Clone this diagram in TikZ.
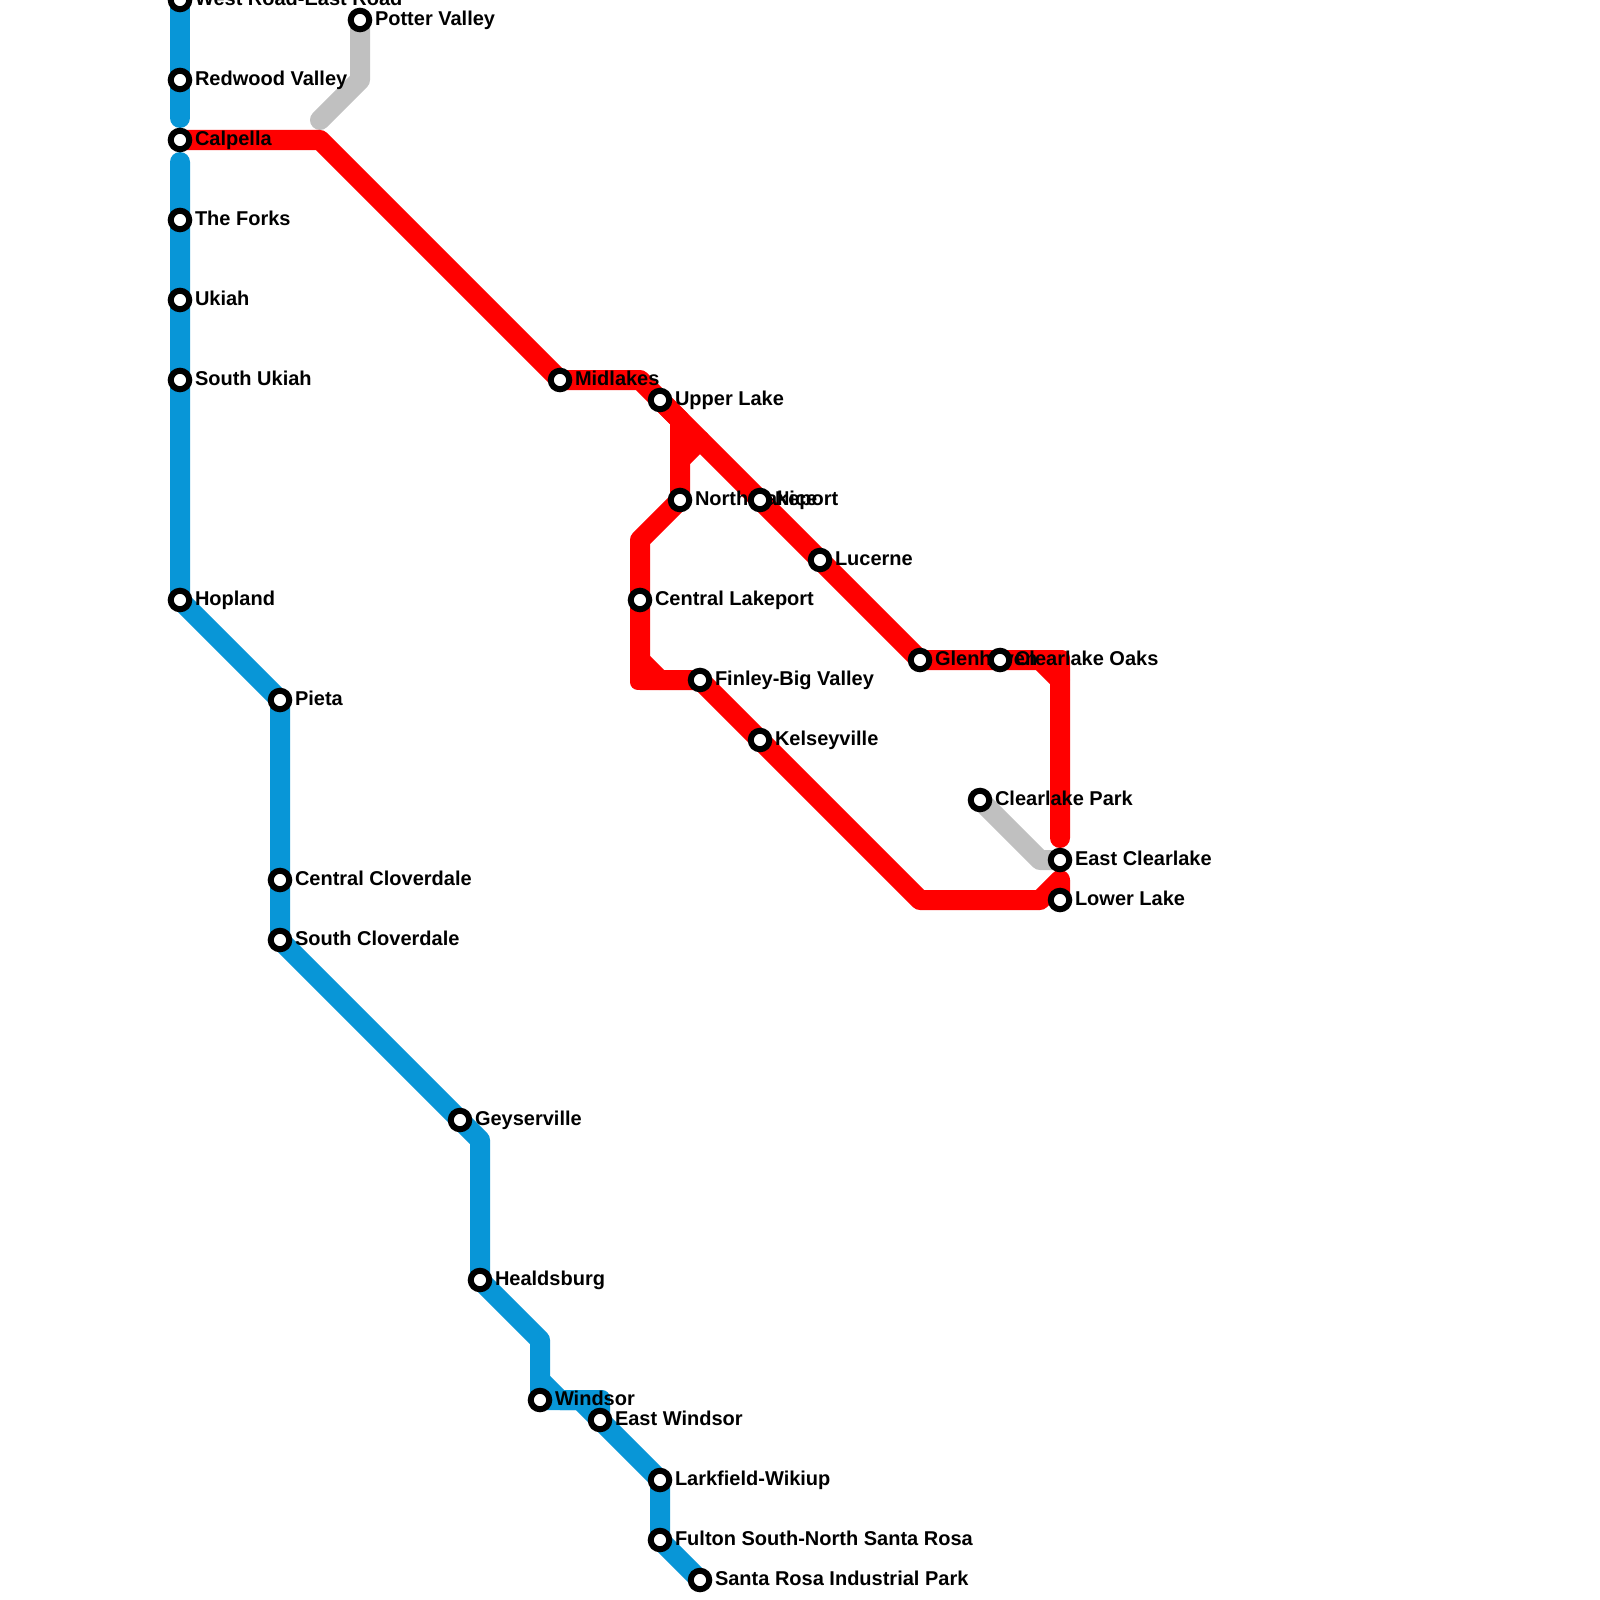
\documentclass[tikz,border=0pt]{standalone}
\usepackage{fontspec}
\setmainfont{Liberation Sans}
\usetikzlibrary{backgrounds}
\pgfdeclarelayer{linelayer}
\pgfdeclarelayer{labellayer}
\pgfsetlayers{background,linelayer,labellayer,main}
\definecolor{lineblue}{HTML}{0896D7}
\definecolor{linered}{HTML}{FF0000}
\definecolor{linegray}{HTML}{C0C0C0}
\tikzset{
  x=1pt,y=-1pt,
  station/.style={circle,draw=black,fill=white,line width=6pt,minimum size=18.5pt,inner sep=0pt,outer sep=0pt},
  stationlabel/.style={anchor=base west,inner sep=0pt,outer sep=0pt,text=black,font=\fontsize{20}{22}\selectfont\bfseries},
  metro/.style={line width=20pt,line cap=round,line join=round},
  blueline/.style={metro,draw=lineblue},
  redline/.style={metro,draw=linered},
  grayline/.style={metro,draw=linegray},
  cornerpatch/.style={line width=16pt,line join=round}
}
\newcommand{\stn}[3]{%
  \node[station] (#1) at (#2) {};
  \begin{pgfonlayer}{labellayer}
    \node[stationlabel] (#1-label) at ([shift={(15,5.5)}]#1.center) {#3};
  \end{pgfonlayer}}
\begin{document}
\begin{tikzpicture}
\useasboundingbox (0,0) rectangle (1600,1600);
\clip (0,0) rectangle (1600,1600);
\stn{westroad}{180,0}{West Road-East Road}
\stn{redwood}{180,80}{Redwood Valley}
\stn{calpella}{180,140}{Calpella}
\stn{forks}{180,220}{The Forks}
\stn{ukiah}{180,300}{Ukiah}
\stn{sukiah}{180,380}{South Ukiah}
\stn{hopland}{180,600}{Hopland}
\stn{pieta}{280,700}{Pieta}
\stn{ccloverdale}{280,880}{Central Cloverdale}
\stn{scloverdale}{280,940}{South Cloverdale}
\stn{geyserville}{460,1120}{Geyserville}
\stn{healdsburg}{480,1280}{Healdsburg}
\stn{windsor}{540,1400}{Windsor}
\stn{ewindsor}{600,1420}{East Windsor}
\stn{larkfield}{660,1480}{Larkfield-Wikiup}
\stn{fulton}{660,1540}{Fulton South-North Santa Rosa}
\stn{santarosa}{700,1580}{Santa Rosa Industrial Park}
\stn{potter}{360,20}{Potter Valley}
\stn{midlakes}{560,380}{Midlakes}
\stn{upperlake}{660,400}{Upper Lake}
\stn{northlakeport}{680,500}{North Lakeport}
\stn{nice}{760,500}{Nice}
\stn{lucerne}{820,560}{Lucerne}
\stn{clakeport}{640,600}{Central Lakeport}
\stn{finley}{700,680}{Finley-Big Valley}
\stn{kelseyville}{760,740}{Kelseyville}
\stn{glenhaven}{920,660}{Glenhaven}
\stn{oaks}{1000,660}{Clearlake Oaks}
\stn{park}{980,800}{Clearlake Park}
\stn{eastclear}{1060,860}{East Clearlake}
\stn{lowerlake}{1060,900}{Lower Lake}
\coordinate (bA) at (180,118);
\coordinate (bB) at (180,162);
\coordinate (bC) at (480,1140);
\coordinate (bD) at (540,1340);
\coordinate (bE) at (540,1380);
\coordinate (bF) at (560,1400);
\coordinate (bG) at (580,1400);
\coordinate (bH) at (600,1400);
\coordinate (gA) at (360,80);
\coordinate (gB) at (320,120);
\coordinate (gC) at (1040,860);
\coordinate (rA) at (320,140);
\coordinate (rB) at (640,380);
\coordinate (rC) at (1060,660);
\coordinate (rD) at (1040,660);
\coordinate (rE) at (1060,680);
\coordinate (rF) at (1060,838);
\coordinate (rG) at (680,420);
\coordinate (rH) at (680,460);
\coordinate (rI) at (700,440);
\coordinate (rJ) at (640,540);
\coordinate (rK) at (640,680);
\coordinate (rL) at (640,660);
\coordinate (rM) at (660,680);
\coordinate (rN) at (920,900);
\coordinate (rO) at (1040,900);
\coordinate (rP) at (1060,880);
\begin{pgfonlayer}{linelayer}
\draw[blueline] (westroad.center) -- (bA);
\draw[blueline] (bB) -- (hopland.center) -- (pieta.center) -- (scloverdale.center) -- (geyserville.center) -- (bC) -- (healdsburg.center) -- (bD) -- (windsor.center) -- (bH) -- (ewindsor.center) -- (larkfield.center) -- (fulton.center) -- (santarosa.center);
\draw[blueline] (bE) -- (bF) -- (bG) -- (ewindsor.center);
\draw[lineblue,fill=lineblue,cornerpatch] ([shift={(-2,-2)}]bH) rectangle ([shift={(2,2)}]bH);
\draw[grayline] (potter.center) -- (gA) -- (gB);
\draw[grayline] (park.center) -- (gC) -- (eastclear.center);
\draw[redline] (calpella.center) -- (rA) -- (midlakes.center) -- (rB) -- (glenhaven.center) -- (rC) -- (rF);
\draw[redline] (rD) -- (rE);
\draw[redline] (upperlake.center) -- (rG) -- (northlakeport.center) -- (rJ) -- (rK) -- (finley.center) -- (rN) -- (rO) -- (rP) -- (lowerlake.center);
\draw[redline] (rH) -- (rI);
\draw[redline] (rL) -- (rM);
\draw[linered,fill=linered,cornerpatch] ([shift={(-2,-2)}]rC) rectangle ([shift={(2,2)}]rC);
\draw[linered,fill=linered,cornerpatch] ([shift={(-2,-2)}]rK) rectangle ([shift={(2,2)}]rK);
\end{pgfonlayer}
\end{tikzpicture}
\end{document}
